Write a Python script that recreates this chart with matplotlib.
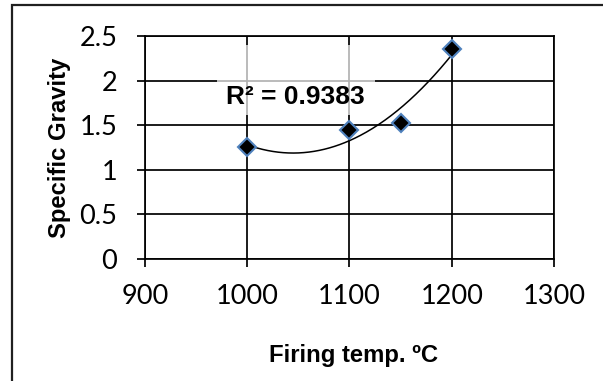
import numpy as np
import matplotlib
matplotlib.use("Agg")
import matplotlib.pyplot as plt
from matplotlib.patches import Rectangle

# data
firing_temp = [1000, 1100, 1150, 1200]
specific_gravity = [1.26, 1.45, 1.53, 2.35]
x_ticks = [900, 1000, 1100, 1200, 1300]
y_ticks = [0, 0.5, 1, 1.5, 2, 2.5]
r2_label = "R² = 0.9383"

fig = plt.figure(figsize=(6.03, 3.81), dpi=100)
ax = fig.add_axes([0.2405, 0.320, 0.6782, 0.5855])

ax.set_xlim(900, 1300)
ax.set_ylim(0, 2.5)
ax.set_xticks(x_ticks)
ax.set_yticks(y_ticks)
ax.set_xticklabels([str(t) for t in x_ticks])
ax.set_yticklabels(["0", "0.5", "1", "1.5", "2", "2.5"])
ax.grid(True, color="black", linewidth=1.25, zorder=0)
ax.set_axisbelow(True)
for s in ax.spines.values():
    s.set_linewidth(1.25)
    s.set_color("black")
ax.tick_params(axis="both", direction="out", length=6, width=1.25, color="black")
ax.tick_params(axis="x", pad=12)
ax.tick_params(axis="y", pad=14)
for lab in ax.get_xticklabels() + ax.get_yticklabels():
    lab.set_fontfamily("Lato")
    lab.set_fontsize(19.5)

# semi-transparent label box (greys the gridlines behind the R² text)
ax.add_patch(Rectangle((0.176, 0.646), 0.386, 0.314, transform=ax.transAxes,
                       facecolor="white", edgecolor="none", alpha=0.7, zorder=1))

# polynomial (order 2) trendline
coef = np.polyfit(firing_temp, specific_gravity, 2)
xs = np.linspace(min(firing_temp), max(firing_temp), 200)
ax.plot(xs, np.polyval(coef, xs), color="black", linewidth=1.1, zorder=3)

ax.plot(firing_temp, specific_gravity, linestyle="none", marker="D", markersize=9.5,
        markerfacecolor="black", markeredgecolor="#4F81BD", markeredgewidth=1.5, zorder=4)

ax.text(0.367, 0.726, r2_label, transform=ax.transAxes, ha="center", va="center",
        fontsize=19, fontweight="bold", family="Liberation Sans", zorder=5)

ax.set_xlabel("Firing temp. ºC", fontsize=17.2, fontweight="bold", family="Liberation Sans")
ax.set_ylabel("Specific Gravity", fontsize=17.2, fontweight="bold", family="Liberation Sans")
ax.xaxis.set_label_coords(0.51, -0.43)
ax.xaxis.label.set_verticalalignment("center")
ax.yaxis.set_label_coords(-0.208, 0.5)
ax.yaxis.label.set_verticalalignment("center")

# outer chart frame
fig.patches.append(Rectangle((0.0195, -0.05), 1.0, 1.0356, transform=fig.transFigure,
                             facecolor="none", edgecolor="#202020", linewidth=1.6))

fig.savefig("out.png", dpi=100)
